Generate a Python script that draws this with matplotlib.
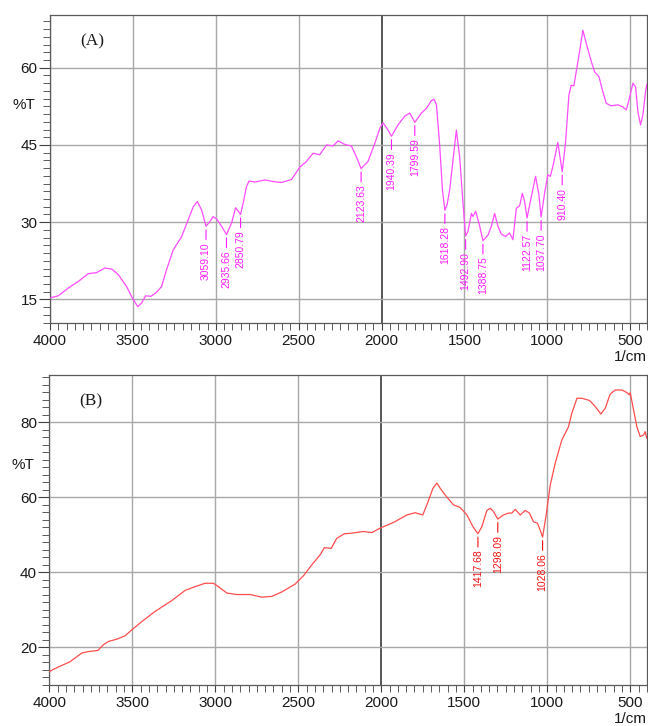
import matplotlib
matplotlib.use('Agg')
import matplotlib.pyplot as plt
import numpy as np
from matplotlib.ticker import MultipleLocator

plt.rcParams['font.family'] = ['Liberation Sans', 'DejaVu Sans']

# spectrum (A): wavenumber (1/cm) and transmittance (%T)
wn_a = [4000, 3950, 3890, 3829, 3769, 3719, 3669, 3628, 3588, 3538,
        3504, 3471, 3447, 3423, 3391, 3357, 3327, 3297, 3257, 3206,
        3166, 3136, 3112, 3086, 3059.10, 3036, 3016, 2995, 2965, 2935.66,
        2905, 2881, 2866, 2850.79, 2835, 2815, 2799, 2764, 2704, 2654,
        2604, 2543, 2493, 2453, 2413, 2373, 2332, 2293, 2262, 2222,
        2182, 2152, 2123.63, 2082, 2041, 2011, 1991, 1961, 1940.39, 1901,
        1860, 1830, 1799.59, 1760, 1730, 1700, 1684, 1669, 1649, 1633,
        1618.28, 1605, 1589, 1569, 1549, 1529, 1509, 1492.90, 1479, 1458,
        1449, 1432, 1408, 1388.75, 1358, 1338, 1318, 1298, 1278, 1252,
        1228, 1208, 1187, 1167, 1151, 1137, 1122.57, 1103, 1071, 1051,
        1037.70, 1017, 997, 982, 962, 937, 910.40, 890, 870, 856,
        840, 826, 806, 786, 765, 735, 715, 689, 665, 645,
        615, 575, 545, 524, 508, 484, 468, 454, 438, 424,
        408, 400]
t_a = [15.3, 15.7, 17.2, 18.5, 20.0, 20.2, 21.1, 20.9, 19.8, 17.5,
       15.3, 13.6, 14.3, 15.7, 15.6, 16.4, 17.5, 20.8, 24.6, 27.2,
       30.5, 33.0, 34.0, 32.4, 29.2, 30.1, 31.1, 30.6, 29.2, 27.6,
       29.8, 32.8, 32.2, 31.5, 33.7, 36.9, 38.0, 37.8, 38.2, 37.9,
       37.7, 38.3, 40.7, 41.8, 43.4, 43.1, 45.0, 44.8, 45.8, 45.1,
       44.8, 42.7, 40.4, 41.8, 45.3, 48.2, 49.3, 47.9, 46.7, 48.9,
       50.6, 51.2, 49.4, 51.2, 52.1, 53.6, 53.9, 52.8, 44.7, 36.3,
       32.3, 33.4, 36.3, 42.1, 47.9, 42.7, 33.7, 27.3, 28.2, 31.7,
       31.1, 32.1, 29.2, 26.4, 27.5, 29.2, 31.7, 29.2, 27.7, 27.2,
       27.9, 26.6, 32.7, 33.2, 35.6, 34.0, 30.8, 34.0, 38.9, 35.3,
       31.0, 35.6, 39.2, 38.9, 41.5, 45.5, 39.8, 45.6, 54.7, 56.6,
       56.5, 59.2, 63.1, 67.3, 64.7, 61.2, 59.2, 58.3, 55.3, 53.1,
       52.6, 52.8, 52.4, 51.8, 53.7, 57.0, 56.3, 51.5, 48.9, 50.8,
       55.3, 56.8]
peaks_a = [3059.10, 2935.66, 2850.79, 2123.63, 1940.39, 1799.59,
           1618.28, 1492.90, 1388.75, 1122.57, 1037.70, 910.40]

# spectrum (B)
wn_b = [4000, 3946, 3875, 3845, 3805, 3765, 3708, 3675, 3644, 3594,
        3544, 3503, 3443, 3363, 3262, 3182, 3122, 3062, 3012, 2981,
        2931, 2871, 2790, 2720, 2660, 2599, 2519, 2469, 2419, 2368,
        2343, 2302, 2268, 2222, 2188, 2108, 2057, 2007, 1927, 1846,
        1796, 1750, 1722, 1689, 1665, 1645, 1615, 1565, 1525, 1484,
        1448, 1417.68, 1394, 1364, 1344, 1324, 1298.09, 1264, 1234, 1213,
        1193, 1163, 1133, 1107, 1083, 1059, 1043, 1028.06, 1006, 982,
        952, 912, 872, 852, 821, 791, 745, 711, 677, 651,
        621, 591, 550, 520, 505, 500, 480, 460, 440, 420,
        410, 400]
t_b = [13.6, 14.8, 16.2, 17.2, 18.5, 18.9, 19.2, 20.7, 21.6, 22.2,
       23.1, 24.7, 26.9, 29.6, 32.5, 35.2, 36.2, 37.1, 37.1, 36.2,
       34.5, 34.1, 34.1, 33.4, 33.6, 34.8, 36.9, 39.1, 42.0, 44.7,
       46.6, 46.4, 49.1, 50.3, 50.4, 50.9, 50.6, 51.8, 53.3, 55.3,
       55.9, 55.3, 58.4, 62.4, 63.8, 62.4, 60.6, 58.0, 57.3, 55.3,
       52.2, 50.3, 52.2, 56.5, 57.1, 56.2, 54.2, 55.3, 55.8, 55.8,
       56.8, 55.3, 56.5, 55.8, 53.5, 53.1, 51.3, 49.4, 55.5, 63.3,
       69.1, 75.3, 78.8, 82.4, 86.4, 86.4, 85.8, 84.2, 82.2, 83.7,
       87.5, 88.6, 88.6, 87.9, 87.3, 87.9, 83.3, 78.8, 76.2, 76.6,
       77.5, 75.7]
peaks_b = [1417.68, 1298.09, 1028.06]

x_ticks = [4000, 3500, 3000, 2500, 2000, 1500, 1000, 500]


def draw_spectrum(ax, wn, t, peaks, line_color, text_color, tag,
                  ylim, yticks, yminor):
    wn = np.array(wn)
    t = np.array(t)
    ax.plot(wn, t, color=line_color, lw=0.9, zorder=3)

    ax.set_xlim(4000, 400)
    ax.set_ylim(*ylim)
    ax.set_xticks(x_ticks)
    ax.set_yticks(yticks)
    ax.xaxis.set_minor_locator(MultipleLocator(50))
    ax.yaxis.set_minor_locator(MultipleLocator(yminor))

    ax.grid(True, which='major', color='#a8a8a8', lw=1.0, zorder=0)
    ax.get_xgridlines()[x_ticks.index(2000)].set_color('#3a3a3a')
    ax.get_xgridlines()[x_ticks.index(2000)].set_linewidth(1.2)

    ax.tick_params(axis='both', which='both', direction='out',
                   colors='#404040', labelcolor='#1a1a1a', labelsize=11)
    ax.tick_params(axis='y', which='major', length=8, pad=1)
    ax.tick_params(axis='y', which='minor', length=5)
    ax.tick_params(axis='x', which='both', length=5, pad=3)
    for sp in ax.spines.values():
        sp.set_color('#5a5a5a')
        sp.set_linewidth(0.9)

    # peak labels hanging below each minimum
    for p in peaks:
        y = np.interp(p, wn[::-1], t[::-1])
        ax.annotate(f'{p:.2f}', xy=(p, y), xytext=(0, -16),
                    textcoords='offset pixels', rotation=90,
                    ha='center', va='top', fontsize=7.5, color=text_color,
                    arrowprops=dict(arrowstyle='-', color=text_color,
                                    lw=0.8, shrinkA=0, shrinkB=2.5),
                    zorder=4)

    ax.text(0.05, 0.915, tag, transform=ax.transAxes, fontsize=12.5,
            family='Liberation Serif', color='#1a1a1a', ha='left', va='center')
    ax.text(-0.025, 0.71, '%T', transform=ax.transAxes, fontsize=11,
            color='#1a1a1a', ha='right', va='center')
    ax.text(1.0, -0.11, '1/cm', transform=ax.transAxes, fontsize=11,
            color='#1a1a1a', ha='right', va='center', clip_on=False)


fig = plt.figure(figsize=(6.48, 7.26), dpi=100)
ax_a = fig.add_axes([0.0772, 0.555, 0.921, 0.424])
ax_b = fig.add_axes([0.0762, 0.0565, 0.922, 0.427])

draw_spectrum(ax_a, wn_a, t_a, peaks_a, '#ff4cff', '#ff1aff', '(A)',
              (10.4, 70.2), [15, 30, 45, 60], 1.5)
draw_spectrum(ax_b, wn_b, t_b, peaks_b, '#ff4d4d', '#f01010', '(B)',
              (10.0, 92.6), [20, 40, 60, 80], 2)

fig.savefig('out.png', dpi=100, facecolor='white')
